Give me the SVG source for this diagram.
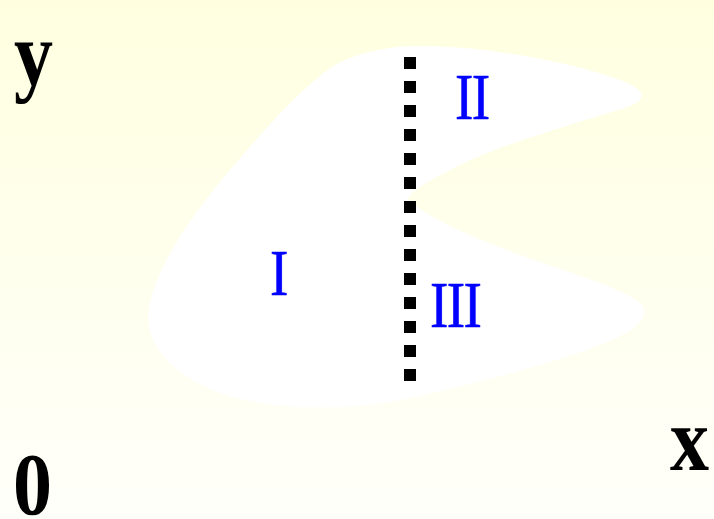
<svg xmlns="http://www.w3.org/2000/svg" width="714" height="519" viewBox="0 0 714 519">
<defs>
<linearGradient id="bg" x1="0" y1="0" x2="0" y2="1">
<stop offset="0" stop-color="#ffffe0"/>
<stop offset="1" stop-color="#fffffa"/>
</linearGradient>
<style>
.axis{font-family:"Liberation Serif","Times New Roman",serif;font-weight:bold;font-size:78px;fill:#000}
.roman{font-family:"Liberation Serif","Times New Roman",serif;font-size:65px;fill:#0000ff;stroke:#0000ff;stroke-width:0.6px;letter-spacing:-2px}
</style>
</defs>
<rect x="0" y="0" width="714" height="519" fill="url(#bg)"/>
<g id="region">
<path d="M 408,199 C 425,216 470,238 540,262 C 590,279 630,292 642,305 C 650,318 635,330 610,341 C 560,362 470,385 400,400 C 340,412 260,410 213,390 C 175,374 150,350 148,320 C 148,290 170,240 230,170 C 265,128 300,90 330,68 C 355,52 390,45 430,46 C 500,48 580,65 620,80 C 648,90 648,100 625,108 C 570,125 500,145 460,165 C 430,180 412,190 408,199 Z" fill="#ffffff"/>
</g>
<g id="connectors">
<line x1="410" y1="57" x2="410" y2="381" stroke="#000" stroke-width="12" stroke-dasharray="12 12"/>
</g>
<g id="label-y"><text class="axis" transform="translate(14,85) scale(1,1.17)">y</text></g>
<g id="label-0"><text class="axis" transform="translate(13,514) scale(1,1.15)">0</text></g>
<g id="label-x"><text class="axis" transform="translate(670,470) scale(1,1.17)">x</text></g>
<g id="label-I"><text class="roman" transform="translate(270,295) scale(0.85,1)">I</text></g>
<g id="label-II"><text class="roman" transform="translate(455,119) scale(0.85,1)">II</text></g>
<g id="label-III"><text class="roman" transform="translate(430,327) scale(0.85,1)">III</text></g>
</svg>
